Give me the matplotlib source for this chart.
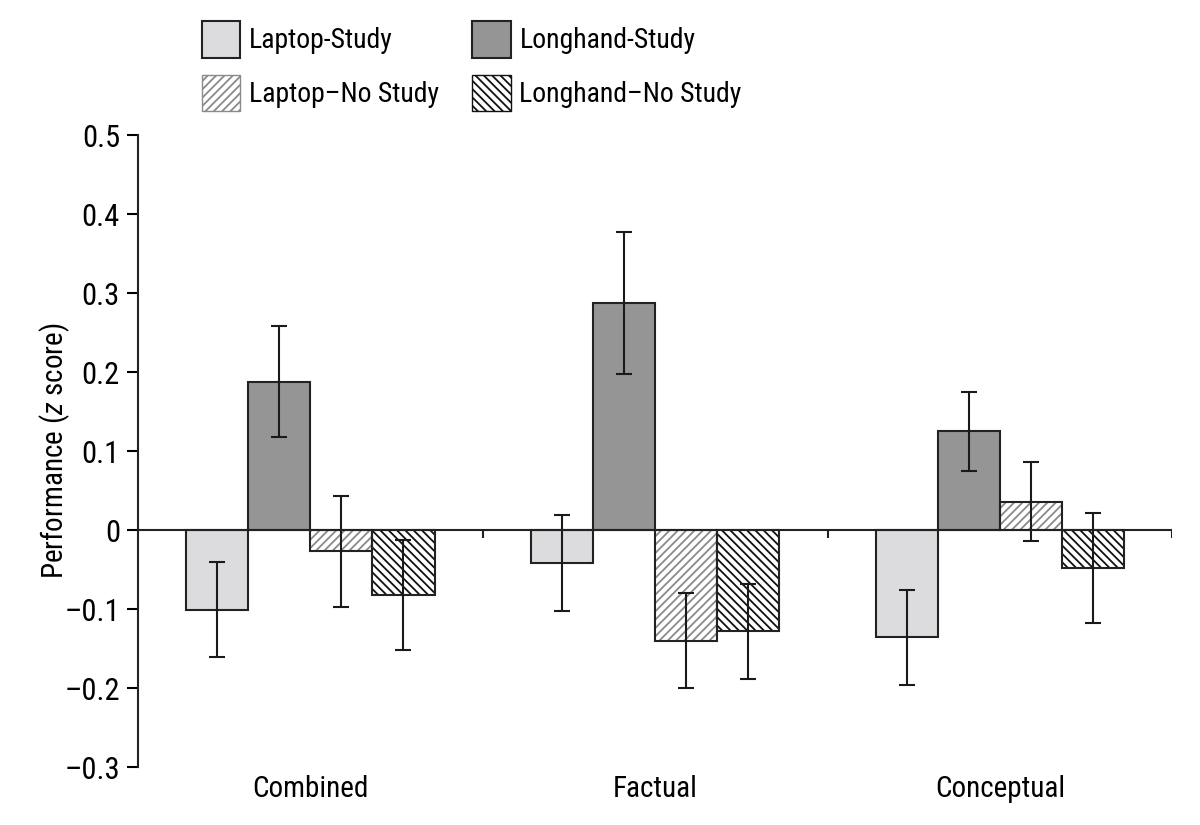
import numpy as np
import matplotlib
matplotlib.use('Agg')
import matplotlib.pyplot as plt
from matplotlib.patches import Patch
from matplotlib import font_manager

# data
categories = ['Combined', 'Factual', 'Conceptual']
series = ['Laptop-Study', 'Longhand-Study', 'Laptop\u2013No Study', 'Longhand\u2013No Study']
laptop_study = [-0.101, -0.042, -0.136]
longhand_study = [0.188, 0.287, 0.125]
laptop_nostudy = [-0.027, -0.140, 0.036]
longhand_nostudy = [-0.082, -0.128, -0.048]
laptop_study_err = [0.060, 0.061, 0.060]
longhand_study_err = [0.070, 0.090, 0.050]
laptop_nostudy_err = [0.070, 0.060, 0.050]
longhand_nostudy_err = [0.070, 0.060, 0.070]
yticks = [-0.3, -0.2, -0.1, 0, 0.1, 0.2, 0.3, 0.4, 0.5]
yticklabels = ['\u20130.3', '\u20130.2', '\u20130.1', '0', '0.1', '0.2', '0.3', '0.4', '0.5']

# font: narrow sans if we have it
names = set(f.name for f in font_manager.fontManager.ttflist)
fam = 'Liberation Sans'
for cand in ['Liberation Sans Narrow', 'Roboto Condensed', 'DejaVu Sans Condensed']:
    if cand in names:
        fam = cand
        break
plt.rcParams['font.family'] = [fam, 'DejaVu Sans']
plt.rcParams['mathtext.fontset'] = 'custom'
plt.rcParams['mathtext.it'] = fam + ':italic'
plt.rcParams['mathtext.rm'] = fam
plt.rcParams['hatch.linewidth'] = 1.3

fig = plt.figure(figsize=(12, 8.25), dpi=100)
ax = fig.add_axes([0.115, 0.0703, 0.862, 0.766])

x = np.arange(len(categories))
w = 0.18
vals = [laptop_study, longhand_study, laptop_nostudy, longhand_nostudy]
errs = [laptop_study_err, longhand_study_err, laptop_nostudy_err, longhand_nostudy_err]
faces = ['#dcdcde', '#959596', 'white', 'white']
hatches = [None, None, '////', '\\\\\\\\']
hatchcols = ['black', 'black', '#8a8a8a', '#111111']

for i in range(4):
    pos = x + (i - 1.5) * w
    if hatches[i]:
        ax.bar(pos, vals[i], w, color=faces[i], edgecolor=hatchcols[i],
               hatch=hatches[i], linewidth=0, zorder=2)
        ax.bar(pos, vals[i], w, fill=False, edgecolor='#222222', linewidth=1.5, zorder=3)
    else:
        ax.bar(pos, vals[i], w, color=faces[i], edgecolor='#222222', linewidth=1.5, zorder=3)
    ax.errorbar(pos, vals[i], yerr=errs[i], fmt='none', ecolor='#1a1a1a',
                elinewidth=1.5, capsize=6, capthick=1.5, zorder=4)

# zero line with group separators
ax.axhline(0, color='#222222', lw=1.5, zorder=5)
ax.vlines([0.5, 1.5, 2.5], -0.01, 0, color='#222222', lw=1.5, zorder=5)

ax.set_xlim(-0.5, 2.5)
ax.set_ylim(-0.3, 0.5)
ax.set_yticks(yticks)
ax.set_yticklabels(yticklabels, fontsize=22)
ax.set_xticks(x)
ax.set_xticklabels(categories, fontsize=21)
ax.tick_params(axis='x', length=0, pad=6)
ax.tick_params(axis='y', length=8, width=1.5, direction='out', pad=5)
for s in ['top', 'right', 'bottom']:
    ax.spines[s].set_visible(False)
ax.spines['left'].set_linewidth(1.5)
ax.spines['left'].set_color('#222222')
ax.set_ylabel('Performance ($\\it{z}$ score)', fontsize=21)
ax.yaxis.set_label_coords(-0.064, 0.5)

handles = [
    Patch(facecolor=faces[0], edgecolor='#222222', linewidth=1.5),
    Patch(facecolor='white', edgecolor='#8a8a8a', hatch='////', linewidth=1.0),
    Patch(facecolor=faces[1], edgecolor='#222222', linewidth=1.5),
    Patch(facecolor='white', edgecolor='#111111', hatch='\\\\\\\\', linewidth=1.0),
]
labels = [series[0], series[2], series[1], series[3]]
fig.legend(handles, labels, loc='upper left', bbox_to_anchor=(0.168, 0.975), ncol=2,
           frameon=False, fontsize=20, handlelength=1.4, handleheight=1.67,
           handletextpad=0.3, columnspacing=1.2, labelspacing=0.61,
           borderpad=0, borderaxespad=0)

plt.savefig('out.png', dpi=100)
